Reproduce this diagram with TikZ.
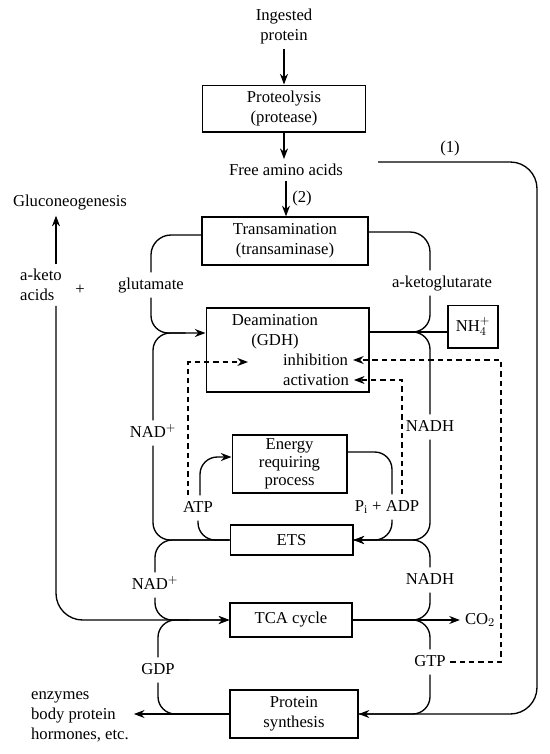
\documentclass[tikz,border=0pt]{standalone}
\usepackage{fontspec}
\setmainfont{Liberation Serif}
\usetikzlibrary{arrows.meta}
\tikzset{
 box/.style={draw, align=center, inner sep=0pt},
 lab/.style={text height=9pt, text depth=3pt, inner sep=3pt},
 reg/.style={line width=.8pt, dash pattern=on 4pt off 3pt},
}
\begin{document}
\begin{tikzpicture}[x=.75pt, y=-.75pt, line width=1pt, font=\fontsize{12.5}{15}\selectfont, >={Stealth[length=8pt,width=6pt]}]
\useasboundingbox (0,0) rectangle (550,754);
\node[align=center] (ingest) at (284,26) {Ingested\\protein};
\node[box, minimum width=122pt, minimum height=35pt] (proteo) at (284,108.5) {Proteolysis\\(protease)};
\node (free) at (286,170) {Free amino acids};
\node (two) at (302,198) {(2)};
\node (one) at (450,148) {(1)};
\node[box, minimum width=124.5pt, minimum height=36pt] (trans) at (285,241) {Transamination\\(transaminase)};
\node[box, minimum width=122pt, minimum height=63pt] (deam) at (287.5,350) {};
\node[align=center] (deamtext) at (275,332) {Deamination\\(GDH)};
\node[anchor=west] (inhib) at (278,360) {inhibition};
\node[anchor=west] (activ) at (278,380) {activation};
\node[box, minimum width=37.5pt, minimum height=32pt] (nh4) at (473,326.5) {NH$_4^+$};
\node[box, minimum width=86pt, minimum height=43.5pt, font=\fontsize{12.5}{13.5}\selectfont] (energy) at (289.5,464) {Energy\\requiring\\process};
\node[box, minimum width=92pt, minimum height=22.5pt] (ets) at (291.5,540) {ETS};
\node[box, minimum width=91.5pt, minimum height=25.5pt] (tca) at (291,620) {TCA cycle};
\node[box, minimum width=96pt, minimum height=36pt] (protsyn) at (294,714) {Protein\\synthesis};
\node (gluco) at (70,203) {Gluconeogenesis};
\node[align=left, anchor=west] (aketo) at (15,285) {a-keto\\acids};
\node (plus) at (80,290) {+};
\node[lab] (glut) at (151,285) {glutamate};
\node[lab] (akg) at (442,283) {a-ketoglutarate};
\node[lab] (nadA) at (153,433) {NAD$^+$};
\node[lab] (nadhA) at (430,427) {NADH};
\node[lab] (atp) at (198,508) {ATP};
\node[lab] (pia) at (387,507) {P$_{\rm i}$ + ADP};
\node[lab] (nadB) at (155,585) {NAD$^+$};
\node[lab] (nadhB) at (430,580) {NADH};
\node[lab] (gdp) at (158,670) {GDP};
\node[lab] (gtp) at (430,662) {GTP};
\node (co2) at (480,620) {CO$_2$};
\node[align=left, anchor=west] (prod) at (26,717) {enzymes\\body protein\\hormones, etc.};
\coordinate (kx) at (56,0);
\coordinate (dx) at (501,0);
\coordinate (lp) at (378,162);
\coordinate (atptip) at (248,362);
\coordinate (deamout) at ([shift={(0,-18)}]deam.east);
\draw[->] (ingest) -- (ingest |- proteo.north);
\draw[->] (proteo) -- (proteo |- free.north);
\draw[->] (free) -- (free |- trans.north);
\draw[->, rounded corners=20] (lp) -- ++(159,0) |- (protsyn.east);
\draw[->] (aketo.north -| kx) -- (gluco.south -| kx);
\draw[->, rounded corners=20] (aketo.south -| kx) |- (tca.west);
\draw[rounded corners=15] ([shift={(0,-6)}]trans.west) -| (glut.north);
\draw[->, rounded corners=13] (glut.south) |- ([shift={(0,-17)}]deam.west);
\draw[rounded corners=13] (nadA.north) |- ([shift={(-20,-17)}]deam.west);
\draw[rounded corners=13] (ets.west) -| (nadA.south);
\draw[rounded corners=13] (ets.west) -| (nadB.north);
\draw[->, rounded corners=13] (nadB.south) |- (tca.west);
\draw[rounded corners=13] (gdp.north) |- ([shift={(-40,0)}]tca.west);
\draw[rounded corners=13] (gdp.south) |- ([shift={(-40,0)}]protsyn.west);
\draw[->] (protsyn.west) -- (protsyn.west -| prod.east);
\draw[->, rounded corners=13] ([shift={(2,0)}]atp.north) |- ([shift={(0,-7)}]energy.west);
\draw[rounded corners=13] (atp.south) |- (ets.west);
\draw[rounded corners=13] ([shift={(0,-12)}]energy.east) -| ([shift={(5,0)}]pia.north);
\draw[->, rounded corners=13] ([shift={(5,0)}]pia.south) |- (ets.east);
\draw (deamout) -- (deamout -| nh4.west);
\draw[rounded corners=15] ([shift={(0,-9)}]trans.east) -| (akg.north -| nadhA);
\draw[rounded corners=13] (akg.south -| nadhA) |- (deamout);
\draw[rounded corners=13] (nadhA.north) |- (deamout);
\draw[->, rounded corners=13] (nadhA.south) |- (ets.east);
\draw[rounded corners=13] (nadhB.north) |- (ets.east);
\draw[rounded corners=13] (tca.east) -| (nadhB.south);
\draw[->] (tca.east) -- (tca.east -| co2.west);
\draw[rounded corners=13] (tca.east) -| (gtp.north);
\draw[rounded corners=13] (gtp.south) |- (protsyn.east);
\draw[reg, ->] ([shift={(-10,0)}]atp.north) |- (atptip);
\draw[reg, ->] ([shift={(15,0)}]pia.north) |- (activ.east);
\draw[reg, ->] (gtp.east) -| (inhib.east -| dx) -- (inhib.east);
\end{tikzpicture}
\end{document}
